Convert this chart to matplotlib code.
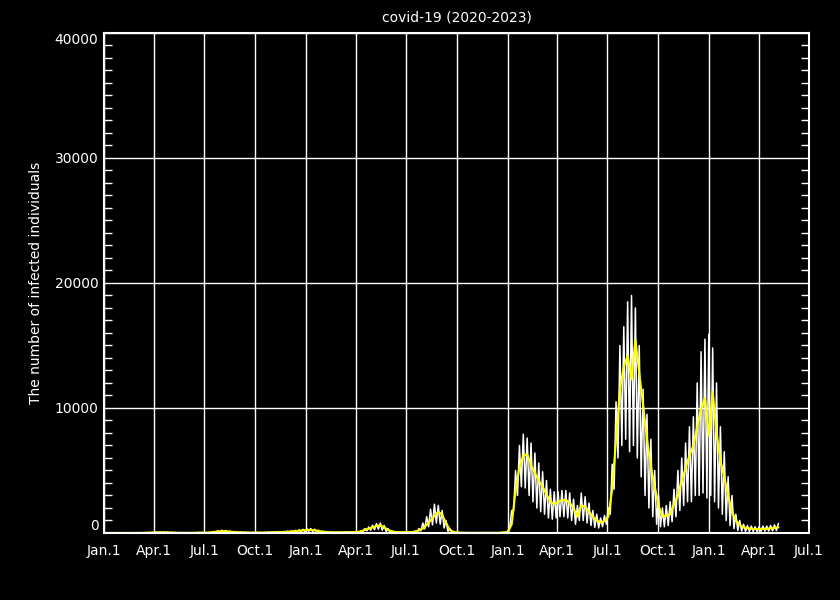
import numpy as np
import matplotlib
matplotlib.use("Agg")
import matplotlib.pyplot as plt

# weekly values, week i starts on day 7*i counted from 2020-01-01
# yellow: 7-day average
avg = [0, 0, 0, 0, 0, 0, 0, 0, 0, 5, 10, 20, 30,
       40, 50, 50, 40, 30, 20, 15, 10, 10, 10, 15, 20, 30,
       20, 40, 80, 120, 150, 140, 110, 80, 60, 50, 40, 30, 30,
       30, 30, 30, 40, 50, 60, 70, 80, 100, 120, 150, 180, 210,
       240, 250, 220, 160, 110, 80, 60, 50, 50, 50, 60, 60, 70,
       80, 120, 250, 350, 450, 560, 620, 450, 250, 120, 80, 60, 60,
       70, 80, 100, 200, 350, 650, 1000, 1350, 1700, 1450, 800, 250, 80,
       40, 20, 15, 10, 10, 10, 10, 10, 10, 10, 15, 20, 40,
       50, 700, 3400, 5200, 6200, 6300, 5400, 4800, 4200, 3700, 3100, 2500, 2300,
       2500, 2600, 2650, 2400, 2000, 1300, 2200, 2100, 1700, 1300, 1000, 850, 950,
       1300, 3500, 7500, 11500, 13300, 14200, 12300, 15500, 12800, 10200, 7500, 5300, 3700,
       2200, 1300, 1400, 1500, 2300, 3000, 4200, 5200, 6200, 7000, 8500, 9900, 10800,
       7800, 11300, 8000, 5800, 4500, 3000, 1700, 1000, 640, 450, 380, 340, 320,
       310, 320, 340, 370, 410, 450]

# white: daily counts, weekly high and low
hi = [0, 0, 0, 0, 0, 0, 0, 0, 0, 10, 20, 40, 50,
      70, 80, 80, 60, 50, 30, 20, 15, 15, 15, 20, 30, 40,
      30, 60, 120, 180, 220, 200, 160, 110, 80, 70, 60, 40, 40,
      40, 40, 50, 60, 70, 80, 100, 120, 140, 170, 210, 250, 290,
      340, 350, 300, 220, 150, 110, 80, 70, 70, 70, 80, 80, 100,
      110, 170, 350, 480, 620, 750, 800, 600, 350, 170, 110, 80, 80,
      80, 100, 150, 350, 800, 1300, 1900, 2300, 2200, 1800, 1000, 350, 120,
      60, 30, 20, 15, 15, 15, 15, 15, 15, 15, 20, 30, 60,
      150, 1800, 5000, 7000, 7900, 7600, 7200, 6400, 5600, 4900, 4200, 3500, 3300,
      3300, 3400, 3400, 3200, 2700, 2200, 3200, 2900, 2400, 1800, 1500, 1200, 1400,
      2000, 5500, 10500, 15000, 16500, 18500, 19000, 18000, 15000, 11500, 9500, 7500, 5000,
      3000, 2000, 2200, 2500, 3500, 5000, 6000, 7200, 8500, 9300, 12000, 14500, 15500,
      15900, 14800, 12000, 8500, 6500, 4500, 3000, 1500, 1000, 700, 600, 550, 500,
      500, 550, 550, 600, 650, 750]

lo = [0, 0, 0, 0, 0, 0, 0, 0, 0, 2, 5, 10, 15,
      20, 25, 25, 20, 15, 10, 8, 5, 5, 5, 8, 10, 15,
      10, 20, 40, 60, 80, 70, 60, 40, 30, 25, 20, 15, 15,
      15, 15, 15, 20, 25, 30, 35, 40, 50, 60, 75, 90, 100,
      120, 120, 110, 80, 55, 40, 30, 25, 25, 25, 30, 30, 35,
      40, 60, 120, 170, 220, 270, 300, 220, 120, 60, 40, 30, 30,
      30, 40, 50, 100, 180, 320, 500, 650, 800, 700, 400, 120, 40,
      20, 10, 8, 5, 5, 5, 5, 5, 5, 5, 8, 10, 20,
      50, 500, 1800, 3000, 3700, 3600, 3000, 2500, 2000, 1700, 1500, 1200, 1100,
      1200, 1300, 1300, 1200, 1000, 700, 1000, 1000, 800, 600, 450, 400, 500,
      700, 1500, 3500, 6000, 7000, 7500, 6500, 7000, 6000, 4500, 3000, 2000, 1300,
      700, 500, 500, 600, 900, 1300, 1800, 2200, 2500, 2500, 3000, 3000, 3200,
      2800, 3000, 2500, 2000, 1500, 1000, 600, 350, 200, 150, 130, 120, 120,
      120, 130, 150, 150, 170, 200]

tick_names = ["Jan.1", "Apr.1", "Jul.1", "Oct.1"]

weeks = np.arange(len(avg))
day0 = np.datetime64("2020-01-01")
quarters = np.arange("2020-01", "2023-08", 3, dtype="datetime64[M]")
qdays = (quarters.astype("datetime64[D]") - day0).astype(int)
qlabels = [tick_names[k % 4] for k in range(len(qdays))]

# zigzag for the daily line: low at week start, high mid-week
wx = np.ravel(np.column_stack([weeks * 7, weeks * 7 + 3.5]))
wy = np.ravel(np.column_stack([lo, hi]))

fig = plt.figure(figsize=(8.4, 6), dpi=100, facecolor="black")
ax = fig.add_axes([0.1238, 0.1117, 0.8393, 0.8333], facecolor="black")

ax.grid(True, color="white", lw=1)
ax.set_axisbelow(True)
ax.plot(wx, wy, color="white", lw=1.1)
ax.plot(weeks * 7 + 3.5, avg, color="yellow", lw=1.5)

ax.set_xlim(0, qdays[-1])
ax.set_ylim(0, 40000)
ax.set_xticks(qdays)
ax.set_xticklabels(qlabels)
ax.set_yticks(np.arange(0, 40001, 10000))
ax.set_yticks(np.arange(0, 40001, 1000), minor=True)

for s in ax.spines.values():
    s.set_color("white")
    s.set_linewidth(1.5)
ax.tick_params(axis="x", colors="white", labelsize=10, length=0, pad=8)
ax.tick_params(axis="y", which="both", colors="white", labelsize=10,
               direction="in", left=True, right=True)
ax.tick_params(axis="y", which="major", length=0, pad=4)
ax.tick_params(axis="y", which="minor", length=6, width=1)
ylabels = ax.get_yticklabels()
ylabels[0].set_va("bottom")
ylabels[-1].set_va("top")

ax.set_title("covid-19 (2020-2023)", color="white", fontsize=10, pad=8)
ax.set_ylabel("The number of infected individuals", color="white", fontsize=10, labelpad=8)

fig.savefig("out.png", dpi=100, facecolor="black")
